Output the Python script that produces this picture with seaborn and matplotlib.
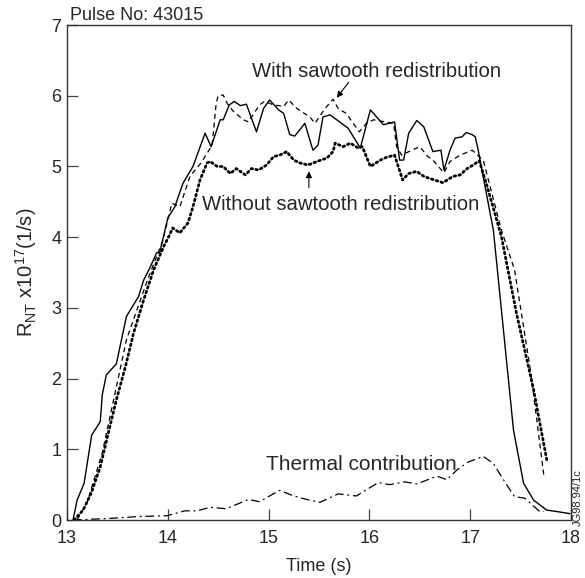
import matplotlib
matplotlib.use("Agg")
import matplotlib.pyplot as plt
import seaborn as sns
import pandas as pd

# ---- data ----
t_meas = [13.06, 13.10, 13.17, 13.245, 13.33, 13.35, 13.39, 13.49, 13.59, 13.71, 13.76, 13.82, 13.89, 13.92,
          14.00, 14.07, 14.15, 14.25, 14.37, 14.43, 14.52, 14.55, 14.61, 14.66, 14.72, 14.78, 14.88, 14.95,
          15.01, 15.10, 15.15, 15.21, 15.26, 15.36, 15.44, 15.49, 15.54, 15.61, 15.79, 15.91, 16.01, 16.14,
          16.25, 16.30, 16.34, 16.39, 16.47, 16.54, 16.63, 16.71, 16.74, 16.80, 16.85, 16.92, 16.96, 17.02,
          17.05, 17.08, 17.11, 17.23, 17.33, 17.43, 17.53, 17.63, 17.76, 17.86, 17.99]
r_meas = [0.0, 0.28, 0.52, 1.20, 1.39, 1.77, 2.05, 2.21, 2.88, 3.16, 3.39, 3.56, 3.78, 3.78,
          4.27, 4.43, 4.76, 5.00, 5.47, 5.28, 5.66, 5.66, 5.87, 5.92, 5.86, 5.88, 5.49, 5.82,
          5.94, 5.80, 5.75, 5.45, 5.43, 5.61, 5.23, 5.30, 5.70, 5.73, 5.54, 5.26, 5.80, 5.59,
          5.63, 5.09, 5.09, 5.47, 5.65, 5.56, 5.21, 5.23, 4.95, 5.23, 5.40, 5.42, 5.48, 5.45,
          5.42, 5.23, 5.00, 4.10, 2.69, 1.27, 0.52, 0.28, 0.14, 0.12, 0.09]

t_with = [13.10, 13.20, 13.35, 13.59, 13.80, 13.95, 14.04, 14.12, 14.22, 14.33, 14.44, 14.48, 14.50, 14.55,
          14.59, 14.65, 14.75, 14.80, 14.91, 14.96, 15.05, 15.15, 15.20, 15.28, 15.41, 15.46, 15.56, 15.64,
          15.69, 15.77, 15.90, 15.97, 16.04, 16.24, 16.27, 16.32, 16.42, 16.50, 16.58, 16.63, 16.74, 16.80,
          16.90, 17.02, 17.08, 17.13, 17.31, 17.44, 17.60, 17.73]
r_with = [0.0, 0.25, 0.95, 2.55, 3.40, 3.95, 4.48, 4.43, 4.86, 5.05, 5.30, 5.89, 6.00, 6.01,
          5.89, 5.78, 5.66, 5.63, 5.87, 5.92, 5.87, 5.85, 5.94, 5.82, 5.70, 5.61, 5.82, 5.95,
          5.82, 5.75, 5.49, 5.61, 5.66, 5.61, 5.28, 5.16, 5.23, 5.28, 5.14, 5.09, 4.91, 5.07,
          5.16, 5.23, 5.15, 5.09, 4.10, 3.54, 2.10, 0.64]

t_without = [13.07, 13.16, 13.24, 13.33, 13.41, 13.49, 13.58, 13.66, 13.76, 13.86, 13.96, 14.01, 14.05, 14.12,
             14.20, 14.25, 14.32, 14.39, 14.42, 14.49, 14.55, 14.62, 14.68, 14.77, 14.83, 14.90, 14.98, 15.05,
             15.11, 15.18, 15.25, 15.31, 15.39, 15.48, 15.58, 15.64, 15.66, 15.74, 15.81, 15.89, 15.93, 16.01,
             16.11, 16.17, 16.25, 16.33, 16.39, 16.47, 16.54, 16.60, 16.73, 16.83, 16.90, 16.97, 17.03, 17.09,
             17.16, 17.31, 17.46, 17.63, 17.76]
r_without = [0.0, 0.14, 0.38, 0.75, 1.23, 1.70, 2.17, 2.64, 3.11, 3.54, 3.87, 4.01, 4.13, 4.06,
             4.20, 4.43, 4.81, 5.05, 5.07, 5.00, 5.00, 4.90, 4.97, 4.88, 4.97, 4.95, 5.02, 5.14,
             5.16, 5.21, 5.09, 5.05, 5.02, 5.07, 5.12, 5.21, 5.33, 5.28, 5.33, 5.26, 5.28, 5.00,
             5.09, 5.13, 5.16, 4.81, 4.90, 4.93, 4.86, 4.83, 4.77, 4.86, 4.88, 4.97, 5.02, 5.08,
             4.76, 4.01, 2.92, 1.84, 0.85]

t_thermal = [13.06, 13.39, 13.72, 13.99, 14.17, 14.29, 14.42, 14.58, 14.80, 14.91, 15.11, 15.25, 15.38, 15.51,
             15.69, 15.87, 16.09, 16.20, 16.35, 16.47, 16.67, 16.77, 16.87, 16.98, 17.13, 17.23, 17.33, 17.44,
             17.54, 17.69, 17.73]
r_thermal = [0.0, 0.02, 0.05, 0.06, 0.13, 0.13, 0.18, 0.16, 0.29, 0.26, 0.42, 0.34, 0.29, 0.25,
             0.37, 0.34, 0.53, 0.50, 0.54, 0.51, 0.62, 0.57, 0.71, 0.82, 0.90, 0.80, 0.57, 0.33,
             0.31, 0.12, 0.12]

x_ticks = [13, 14, 15, 16, 17, 18]
y_ticks = [0, 1, 2, 3, 4, 5, 6, 7]

# ---- style ----
sns.set_theme(style="white")
plt.rcParams['font.family'] = ['Liberation Sans', 'DejaVu Sans']
plt.rcParams['mathtext.fontset'] = 'custom'
plt.rcParams['mathtext.rm'] = 'Liberation Sans'
plt.rcParams['mathtext.it'] = 'Liberation Sans:italic'

fig = plt.figure(figsize=(5.85, 5.78), dpi=100)
ax = fig.add_axes([0.1145, 0.1003, 0.8615, 0.8564])

df_m = pd.DataFrame({"t": t_meas, "r": r_meas})
df_w = pd.DataFrame({"t": t_with, "r": r_with})
df_wo = pd.DataFrame({"t": t_without, "r": r_without})
df_th = pd.DataFrame({"t": t_thermal, "r": r_thermal})

sns.lineplot(data=df_m, x="t", y="r", ax=ax, color="black", lw=1.0, sort=False)
sns.lineplot(data=df_w, x="t", y="r", ax=ax, color="black", lw=0.9, linestyle=(0, (4, 3)), sort=False)
sns.lineplot(data=df_wo, x="t", y="r", ax=ax, color="black", lw=2.0, linestyle=(0, (0.6, 1.2)),
             sort=False, dash_capstyle='round')
sns.lineplot(data=df_th, x="t", y="r", ax=ax, color="black", lw=0.9, linestyle=(0, (7, 3, 1.5, 3)), sort=False)

ax.set_xlim(13, 18)
ax.set_ylim(0, 7)
ax.set_xticks(x_ticks)
ax.set_yticks(y_ticks)
ax.tick_params(direction='in', length=8, width=0.9, labelsize=13, color='#444444',
               bottom=True, left=True, top=False, right=False)
ax.tick_params(axis='x', pad=7)
ax.tick_params(axis='y', pad=4)
for s in ax.spines.values():
    s.set_color('#333333')
    s.set_linewidth(1.0)

ax.set_xlabel("Time (s)", fontsize=13, labelpad=8)
ax.set_ylabel(r"R$_{\mathrm{NT}}$ x10$^{17}$(1/s)", fontsize=14.5, labelpad=9)

ax.text(13.03, 7.02, "Pulse No: 43015", fontsize=13, ha='left', va='bottom')
ax.text(16.07, 6.34, "With sawtooth redistribution", fontsize=14.6, ha='center', va='center')
ax.text(15.72, 4.46, "Without sawtooth redistribution", fontsize=14.6, ha='center', va='center')
ax.text(15.92, 0.78, "Thermal contribution", fontsize=15, ha='center', va='center')
ax.annotate("", xy=(15.66, 5.94), xytext=(15.81, 6.22),
            arrowprops=dict(arrowstyle='-|>', color='black', lw=0.8, mutation_scale=9))
ax.annotate("", xy=(15.40, 4.97), xytext=(15.40, 4.66),
            arrowprops=dict(arrowstyle='-|>', color='black', lw=0.8, mutation_scale=9))

fig.text(0.988, 0.14, "JG98.94/1c", rotation=90, fontsize=8, ha='center', va='center')

fig.savefig("out.png", dpi=100)
